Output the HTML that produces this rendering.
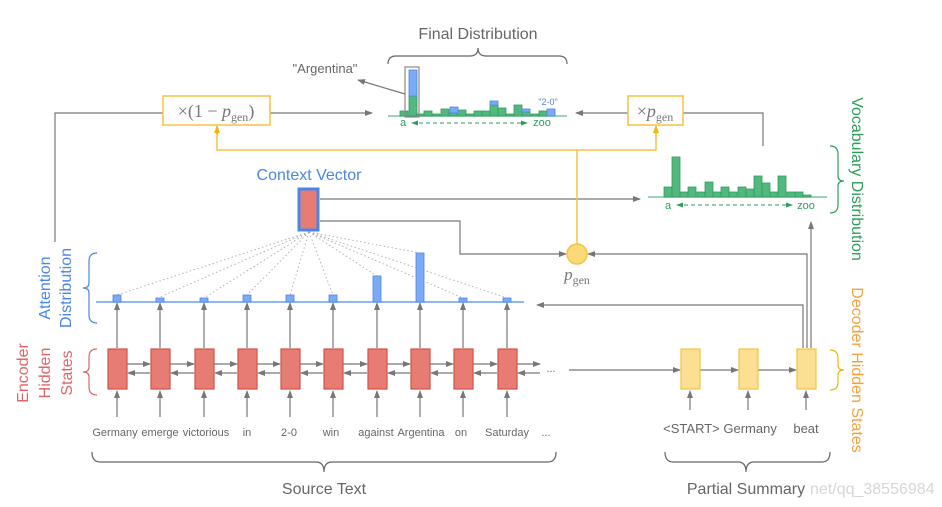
<!DOCTYPE html>
<html><head><meta charset="utf-8"><style>
html,body{margin:0;padding:0;background:#fff;}
svg{display:block;font-family:"Liberation Sans",sans-serif;}
</style></head><body>
<svg width="942" height="507" viewBox="0 0 942 507" xmlns="http://www.w3.org/2000/svg">
<defs>
<marker id="ag" markerWidth="8" markerHeight="8" refX="7" refY="4" orient="auto" markerUnits="userSpaceOnUse"><path d="M0,1 L8,4 L0,7 z" fill="#777"/></marker>
<marker id="ay" markerWidth="8" markerHeight="8" refX="7" refY="4" orient="auto" markerUnits="userSpaceOnUse"><path d="M0,1 L8,4 L0,7 z" fill="#f2b705"/></marker>
<marker id="agr" markerWidth="7" markerHeight="7" refX="6" refY="3.5" orient="auto-start-reverse" markerUnits="userSpaceOnUse"><path d="M0,1 L7,3.5 L0,6 z" fill="#2e9e5b"/></marker>
</defs>
<g fill="#666" font-size="16" text-anchor="middle">
<text x="478" y="39">Final Distribution</text>
<text x="324" y="494">Source Text</text>
<text x="746" y="494">Partial Summary</text>
</g>
<text x="810" y="494" font-size="16" fill="#ccc" text-anchor="start" opacity="0.8">net/qq_38556984</text>
<text x="325" y="73" font-size="13" fill="#666" text-anchor="middle">"Argentina"</text>
<g fill="none" stroke="#666" stroke-width="1.2">
<path d="M388,64 q0,-8 8,-8 h74 q8,0 8,-8 q0,8 8,8 h73 q8,0 8,8"/>
<path d="M92,452 q0,10 8,10 h216 q8,0 8,10 q0,-10 8,-10 h216 q8,0 8,-10"/>
<path d="M665,452 q0,10 8,10 h65 q8,0 8,10 q0,-10 8,-10 h68 q8,0 8,-10"/>
</g>
<path d="M97,253 q-8,0 -8,8 v22 q0,5 -6,5 q6,0 6,5 v22 q0,8 8,8" fill="none" stroke="#4a86e8" stroke-width="1.2"/>
<path d="M97,349 q-8,0 -8,8 v10 q0,5 -6,5 q6,0 6,5 v10 q0,8 8,8" fill="none" stroke="#e06666" stroke-width="1.2"/>
<path d="M830,146 q8,0 8,8 v22 q0,5 6,5 q-6,0 -6,5 v19 q0,8 -8,8" fill="none" stroke="#2e9e5b" stroke-width="1.2"/>
<path d="M830,350 q8,0 8,8 v7 q0,5 6,5 q-6,0 -6,5 v7 q0,8 -8,8" fill="none" stroke="#f2b705" stroke-width="1.2"/>
<g font-size="16" text-anchor="middle">
<text transform="translate(50,288) rotate(-90)" fill="#4a86e8">Attention</text>
<text transform="translate(71,288) rotate(-90)" fill="#4a86e8">Distribution</text>
<text transform="translate(28,373) rotate(-90)" fill="#e06666">Encoder</text>
<text transform="translate(50,373) rotate(-90)" fill="#e06666">Hidden</text>
<text transform="translate(72,373) rotate(-90)" fill="#e06666">States</text>
<text transform="translate(852,179) rotate(90)" fill="#2e9e5b">Vocabulary Distribution</text>
<text transform="translate(852,370) rotate(90)" fill="#f6a03c">Decoder Hidden States</text>
<text x="309" y="180" fill="#4a86e8">Context Vector</text>
</g>
<g fill="none" stroke="#777" stroke-width="1.2">
<path d="M55,242 V113 H163"/>
<path d="M270,113 H372" marker-end="url(#ag)"/>
<path d="M628,113 H576" marker-end="url(#ag)"/>
<path d="M683,113 H763 V146"/>
<path d="M320,199 H640" marker-end="url(#ag)"/>
<path d="M320,221 H460 V254 H566" marker-end="url(#ag)"/>
<path d="M807,348 V254 H588" marker-end="url(#ag)"/>
<path d="M803,348 V305 H537" marker-end="url(#ag)"/>
<path d="M811,348 V222" marker-end="url(#ag)"/>
<path d="M569,370 H680" marker-end="url(#ag)"/>
<path d="M700,370 H738" marker-end="url(#ag)"/>
<path d="M758,370 H796" marker-end="url(#ag)"/>
<path d="M690,410 V391" marker-end="url(#ag)"/>
<path d="M748,410 V391" marker-end="url(#ag)"/>
<path d="M806,410 V391" marker-end="url(#ag)"/>
<path d="M405,94 L358,80" marker-end="url(#ag)"/>
</g>
<g fill="none" stroke="#f6c342" stroke-width="1.5">
<path d="M577,244 V150"/>
<path d="M217,127 V150 H656 V127" />
</g>
<path d="M217,134 V126" stroke="#f2b705" stroke-width="1.5" marker-end="url(#ay)"/>
<path d="M656,134 V126" stroke="#f2b705" stroke-width="1.5" marker-end="url(#ay)"/>
<rect x="163" y="96" width="107" height="29" fill="#fff" stroke="#f6c342" stroke-width="1.5"/>
<rect x="628" y="96" width="55" height="29" fill="#fff" stroke="#f6c342" stroke-width="1.5"/>
<text x="216" y="117" font-family="Liberation Serif,serif" font-size="18" fill="#777" text-anchor="middle">×(1 − <tspan font-style="italic">p</tspan><tspan font-size="12" dy="4">gen</tspan><tspan dy="-4">)</tspan></text>
<text x="655" y="117" font-family="Liberation Serif,serif" font-size="18" fill="#777" text-anchor="middle">×<tspan font-style="italic">p</tspan><tspan font-size="12" dy="4">gen</tspan></text>
<circle cx="577" cy="254" r="10" fill="#fbd978" stroke="#f6c342" stroke-width="1.5"/>
<text x="577" y="280" font-family="Liberation Serif,serif" font-size="17" fill="#777" text-anchor="middle"><tspan font-style="italic">p</tspan><tspan font-size="12" dy="4">gen</tspan></text>
<line x1="388" y1="116" x2="567" y2="116" stroke="#7cc79a" stroke-width="1.5"/>
<g fill="#52b87f" stroke="#2e9e5b" stroke-width="0.8">
<rect x="400" y="111" width="8" height="5"/><rect x="409" y="96" width="8" height="20"/>
<rect x="417" y="114" width="8" height="2"/><rect x="424" y="111" width="8" height="5"/>
<rect x="432" y="114" width="8" height="2"/><rect x="441" y="109" width="8" height="7"/>
<rect x="449" y="113" width="8" height="3"/><rect x="458" y="110" width="8" height="6"/>
<rect x="466" y="114" width="8" height="2"/><rect x="474" y="111" width="8" height="5"/>
<rect x="482" y="111" width="8" height="5"/><rect x="490" y="105" width="8" height="11"/>
<rect x="498" y="108" width="8" height="8"/><rect x="506" y="114" width="8" height="2"/>
<rect x="514" y="105" width="8" height="11"/><rect x="522" y="112" width="8" height="4"/>
<rect x="531" y="114" width="8" height="2"/><rect x="539" y="111" width="8" height="5"/>
</g>
<g fill="#7baaf7" stroke="#4a86e8" stroke-width="0.8">
<rect x="409" y="70" width="8" height="26"/><rect x="450" y="107" width="8" height="6"/>
<rect x="490" y="101" width="8" height="4"/><rect x="522" y="109" width="8" height="3"/>
<rect x="547" y="109" width="8" height="7"/>
</g>
<rect x="405" y="67" width="14" height="50" fill="none" stroke="#888" stroke-width="1.2"/>
<text x="548" y="105" font-size="9" fill="#4a86e8" text-anchor="middle">"2-0"</text>
<text x="403" y="126" font-size="11" fill="#2e9e5b" text-anchor="middle">a</text>
<path d="M412,123 H527" stroke="#2e9e5b" stroke-dasharray="4,3" marker-end="url(#agr)" marker-start="url(#agr)" fill="none"/>
<text x="542" y="126" font-size="11" fill="#2e9e5b" text-anchor="middle">zoo</text>
<line x1="648" y1="197" x2="827" y2="197" stroke="#7cc79a" stroke-width="1.5"/>
<g fill="#52b87f" stroke="#2e9e5b" stroke-width="0.8">
<rect x="664" y="187" width="8" height="10"/><rect x="672" y="157" width="8" height="40"/>
<rect x="680" y="192" width="8" height="5"/><rect x="688" y="187" width="8" height="10"/>
<rect x="697" y="192" width="8" height="5"/><rect x="705" y="182" width="8" height="15"/>
<rect x="713" y="192" width="8" height="5"/><rect x="721" y="187" width="8" height="10"/>
<rect x="729" y="192" width="8" height="5"/><rect x="738" y="187" width="8" height="10"/>
<rect x="746" y="189" width="8" height="8"/><rect x="754" y="176" width="8" height="21"/>
<rect x="762" y="183" width="8" height="14"/><rect x="770" y="192" width="8" height="5"/>
<rect x="778" y="176" width="8" height="21"/><rect x="787" y="192" width="8" height="5"/>
<rect x="795" y="192" width="8" height="5"/><rect x="803" y="195" width="8" height="2"/>
</g>
<text x="668" y="209" font-size="11" fill="#2e9e5b" text-anchor="middle">a</text>
<path d="M677,205 H792" stroke="#2e9e5b" stroke-dasharray="4,3" marker-end="url(#agr)" marker-start="url(#agr)" fill="none"/>
<text x="806" y="209" font-size="11" fill="#2e9e5b" text-anchor="middle">zoo</text>
<g stroke="#aaa" stroke-width="0.9" stroke-dasharray="1.5,2.5" fill="none">
<path d="M309,232 L117,295"/><path d="M309,232 L160,297"/><path d="M309,232 L204,298"/>
<path d="M309,232 L247,295"/><path d="M309,232 L290,295"/><path d="M309,232 L333,295"/>
<path d="M309,232 L377,276"/><path d="M309,232 L420,253"/><path d="M309,232 L463,298"/>
<path d="M309,232 L507,298"/>
</g>
<g fill="none" stroke="#777" stroke-width="1.2">
<path d="M117,348 V303" marker-end="url(#ag)"/><path d="M160,348 V303" marker-end="url(#ag)"/>
<path d="M204,348 V303" marker-end="url(#ag)"/><path d="M247,348 V303" marker-end="url(#ag)"/>
<path d="M290,348 V303" marker-end="url(#ag)"/><path d="M333,348 V303" marker-end="url(#ag)"/>
<path d="M377,348 V303" marker-end="url(#ag)"/><path d="M420,348 V303" marker-end="url(#ag)"/>
<path d="M463,348 V303" marker-end="url(#ag)"/><path d="M507,348 V303" marker-end="url(#ag)"/>
<path d="M117,417 V391" marker-end="url(#ag)"/><path d="M160,417 V391" marker-end="url(#ag)"/>
<path d="M204,417 V391" marker-end="url(#ag)"/><path d="M247,417 V391" marker-end="url(#ag)"/>
<path d="M290,417 V391" marker-end="url(#ag)"/><path d="M333,417 V391" marker-end="url(#ag)"/>
<path d="M377,417 V391" marker-end="url(#ag)"/><path d="M420,417 V391" marker-end="url(#ag)"/>
<path d="M463,417 V391" marker-end="url(#ag)"/><path d="M507,417 V391" marker-end="url(#ag)"/>
<path d="M127,364 H150" marker-end="url(#ag)"/><path d="M170,364 H194" marker-end="url(#ag)"/>
<path d="M214,364 H237" marker-end="url(#ag)"/><path d="M257,364 H280" marker-end="url(#ag)"/>
<path d="M300,364 H323" marker-end="url(#ag)"/><path d="M343,364 H367" marker-end="url(#ag)"/>
<path d="M387,364 H410" marker-end="url(#ag)"/><path d="M430,364 H453" marker-end="url(#ag)"/>
<path d="M473,364 H497" marker-end="url(#ag)"/><path d="M517,364 H540" marker-end="url(#ag)"/>
<path d="M150,373 H128" marker-end="url(#ag)"/><path d="M194,373 H171" marker-end="url(#ag)"/>
<path d="M237,373 H215" marker-end="url(#ag)"/><path d="M280,373 H258" marker-end="url(#ag)"/>
<path d="M323,373 H301" marker-end="url(#ag)"/><path d="M367,373 H344" marker-end="url(#ag)"/>
<path d="M410,373 H388" marker-end="url(#ag)"/><path d="M453,373 H431" marker-end="url(#ag)"/>
<path d="M497,373 H474" marker-end="url(#ag)"/><path d="M540,373 H518" marker-end="url(#ag)"/>
</g>
<line x1="96" y1="302" x2="524" y2="302" stroke="#6d9eeb" stroke-width="1.5"/>
<g fill="#7baaf7" stroke="#4a86e8" stroke-width="0.8">
<rect x="113" y="295" width="8" height="7"/><rect x="156" y="298" width="8" height="4"/>
<rect x="200" y="298" width="8" height="4"/><rect x="243" y="295" width="8" height="7"/>
<rect x="286" y="295" width="8" height="7"/><rect x="329" y="295" width="8" height="7"/>
<rect x="373" y="276" width="8" height="26"/><rect x="416" y="253" width="8" height="49"/>
<rect x="459" y="298" width="8" height="4"/><rect x="503" y="298" width="8" height="4"/>
</g>
<g fill="#e67c73" stroke="#d65146" stroke-width="1.2">
<rect x="108" y="349" width="19" height="40"/><rect x="151" y="349" width="19" height="40"/>
<rect x="195" y="349" width="19" height="40"/><rect x="238" y="349" width="19" height="40"/>
<rect x="281" y="349" width="19" height="40"/><rect x="324" y="349" width="19" height="40"/>
<rect x="368" y="349" width="19" height="40"/><rect x="411" y="349" width="19" height="40"/>
<rect x="454" y="349" width="19" height="40"/><rect x="498" y="349" width="19" height="40"/>
</g>
<rect x="299" y="189" width="19" height="41" fill="#e67c73" stroke="#4a86e8" stroke-width="3"/>
<g fill="#666" font-size="11" text-anchor="middle">
<text x="115" y="436">Germany</text><text x="160" y="436">emerge</text>
<text x="206" y="436">victorious</text><text x="247" y="436">in</text>
<text x="289" y="436">2-0</text><text x="331" y="436">win</text>
<text x="376" y="436">against</text><text x="421" y="436">Argentina</text>
<text x="461" y="436">on</text><text x="507" y="436">Saturday</text>
<text x="546" y="436">...</text><text x="551" y="372">...</text>
</g>
<g fill="#666" font-size="13" text-anchor="middle">
<text x="720" y="433">&lt;START&gt; Germany</text><text x="806" y="433">beat</text>
</g>
<g fill="#fbdf93" stroke="#f6c342" stroke-width="1.2">
<rect x="681" y="349" width="19" height="40"/><rect x="739" y="349" width="19" height="40"/>
<rect x="797" y="349" width="19" height="40"/>
</g>
</svg>
</body></html>
